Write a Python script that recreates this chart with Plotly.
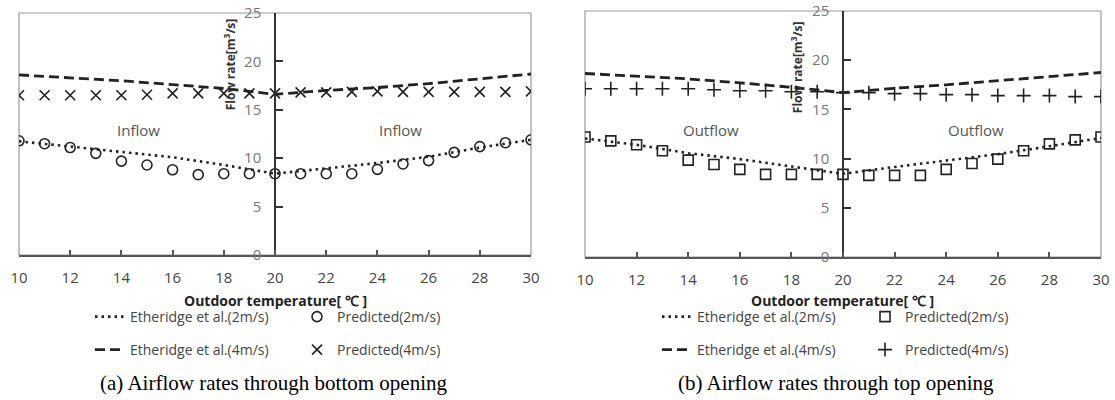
import plotly.graph_objects as go

# ---------------- data ----------------
temps = list(range(10, 31))
eth_x = [10, 12, 14, 16, 18, 20, 22, 24, 26, 28, 30]

# (a) bottom opening
eth2_a = [11.75, 11.2, 10.65, 10.1, 9.3, 8.4, 8.95, 9.5, 10.15, 11.1, 11.9]
eth4_a = [18.6, 18.3, 18.0, 17.6, 17.2, 16.6, 17.0, 17.3, 17.7, 18.2, 18.7]
pred2_a = [11.8, 11.5, 11.1, 10.5, 9.7, 9.3, 8.8, 8.3, 8.4, 8.4, 8.4,
           8.4, 8.4, 8.4, 8.85, 9.4, 9.75, 10.6, 11.2, 11.6, 11.9]
pred4_a = [16.5, 16.5, 16.5, 16.5, 16.5, 16.55, 16.7, 16.7, 16.7, 16.7, 16.7,
           16.8, 16.8, 16.85, 16.9, 16.85, 16.85, 16.85, 16.85, 16.85, 16.9]

# (b) top opening
eth2_b = [12.05, 11.4, 10.55, 9.95, 9.2, 8.45, 9.15, 9.8, 10.45, 11.25, 12.1]
eth4_b = [18.65, 18.4, 18.1, 17.7, 17.25, 16.7, 17.15, 17.5, 17.9, 18.3, 18.75]
pred2_b = [12.2, 11.8, 11.4, 10.8, 9.85, 9.4, 8.9, 8.4, 8.4, 8.4, 8.4,
           8.3, 8.3, 8.3, 8.9, 9.5, 9.95, 10.8, 11.5, 11.9, 12.2]
pred4_b = [17.1, 17.1, 17.1, 17.1, 17.1, 17.0, 16.9, 16.9, 16.8, 16.8, 16.7,
           16.7, 16.6, 16.6, 16.5, 16.5, 16.4, 16.4, 16.4, 16.3, 16.3]

x_ticks = list(range(10, 31, 2))
y_ticks = [0, 5, 10, 15, 20, 25]

names = ["Etheridge et al.(2m/s)", "Etheridge et al.(4m/s)",
         "Predicted(2m/s)", "Predicted(4m/s)"]
x_title = "Outdoor temperature[ ℃ ]"
y_title = "Flow rate[m<sup>3</sup>/s]"
captions = ["(a) Airflow rates through bottom opening",
            "(b) Airflow rates through top opening"]
zone_labels = [("Inflow", "Inflow"), ("Outflow", "Outflow")]

# ---------------- figure ----------------
W, H = 1115, 400
FONT = "Open Sans"
INK = "#222222"

fig = go.Figure()

panels = [
    dict(xa="x", ya="y", eth2=eth2_a, eth4=eth4_a, p2=pred2_a, p4=pred4_a,
         sym2="circle-open", sym4="x-thin-open", leg=["legend", "legend2", "legend3", "legend4"]),
    dict(xa="x2", ya="y2", eth2=eth2_b, eth4=eth4_b, p2=pred2_b, p4=pred4_b,
         sym2="square-open", sym4="cross-thin-open", leg=["legend5", "legend6", "legend7", "legend8"]),
]

for p in panels:
    fig.add_trace(go.Scatter(x=eth_x, y=p["eth2"], mode="lines", name=names[0],
                             line=dict(color=INK, width=2.6, dash="2.5px,4px"),
                             xaxis=p["xa"], yaxis=p["ya"], legend=p["leg"][0], showlegend=True))
    fig.add_trace(go.Scatter(x=eth_x, y=p["eth4"], mode="lines", name=names[1],
                             line=dict(color=INK, width=2.8, dash="10px,5px"),
                             xaxis=p["xa"], yaxis=p["ya"], legend=p["leg"][1], showlegend=True))
    fig.add_trace(go.Scatter(x=temps, y=p["p2"], mode="markers", name=names[2],
                             marker=dict(symbol=p["sym2"], size=10, color=INK,
                                         line=dict(width=1.6, color=INK)),
                             xaxis=p["xa"], yaxis=p["ya"], legend=p["leg"][2], showlegend=True))
    fig.add_trace(go.Scatter(x=temps, y=p["p4"], mode="markers", name=names[3],
                             marker=dict(symbol=p["sym4"], size=10, color=INK,
                                         line=dict(width=1.6, color=INK)),
                             xaxis=p["xa"], yaxis=p["ya"], legend=p["leg"][3], showlegend=True))

def px_x(v):
    return v / W

def px_y(v):
    return 1 - v / H

xcommon = dict(range=[10, 30], tickvals=x_ticks, ticks="inside", ticklen=5, tickwidth=1.5,
               tickcolor="#555", showline=True, linecolor="#555", linewidth=1.5,
               showgrid=False, zeroline=False, ticklabelstandoff=8, automargin=False,
               tickfont=dict(family=FONT, size=15, color="#444"))
ycommon = dict(range=[0, 25], tickvals=y_ticks, ticks="inside", ticklen=7, tickwidth=1.5,
               tickcolor="#333", showline=True, linecolor="#333", linewidth=1.5,
               showgrid=False, zeroline=False, anchor="free", side="left",
               ticklabelstandoff=10, automargin=False,
               tickfont=dict(family=FONT, size=15, color="#777"))
yover = dict(range=[0, 25], tickvals=y_ticks, ticks="outside", ticklen=3, tickwidth=1.5,
             tickcolor="#333", showline=False, showticklabels=False, showgrid=False,
             zeroline=False, anchor="free", side="left", automargin=False)

fig.update_layout(
    width=W, height=H, margin=dict(l=0, r=0, t=0, b=0, autoexpand=False),
    paper_bgcolor="white", plot_bgcolor="white", showlegend=True,
    xaxis=dict(domain=[px_x(19), px_x(531)], anchor="y", **xcommon),
    yaxis=dict(domain=[px_y(255), px_y(13)], position=px_x(275), **ycommon),
    xaxis2=dict(domain=[px_x(585), px_x(1101)], anchor="y2", **xcommon),
    yaxis2=dict(domain=[px_y(257), px_y(11)], position=px_x(843), **ycommon),
    yaxis3=dict(overlaying="y", position=px_x(275), **yover),
    yaxis4=dict(overlaying="y2", position=px_x(843), **yover),
)

# plot frames
for xr, yr in [("x domain", "y domain"), ("x2 domain", "y2 domain")]:
    fig.add_shape(type="rect", xref=xr, yref=yr, x0=0, x1=1, y0=0, y1=1,
                  line=dict(color="#999", width=1.2), layer="below")

# legends (one entry each, positioned as in the reference)
leg_pos = {
    "legend": (90, 317), "legend2": (90, 350), "legend3": (297, 317), "legend4": (297, 350),
    "legend5": (657, 317), "legend6": (657, 350), "legend7": (865, 317), "legend8": (865, 350),
}
for key, (lx, ly) in leg_pos.items():
    fig.update_layout({key: dict(x=px_x(lx), y=px_y(ly), xanchor="left", yanchor="middle",
                                 xref="paper", yref="paper", visible=True,
                                 bgcolor="rgba(0,0,0,0)", borderwidth=0, itemwidth=30,
                                 font=dict(family=FONT, size=14, color="#444"))})

# axis titles
for cx in (275, 842):
    fig.add_annotation(x=px_x(cx), y=px_y(300), xref="paper", yref="paper",
                       xanchor="center", yanchor="middle",
                       text="<b>" + x_title + "</b>", showarrow=False,
                       font=dict(family=FONT, size=14, color=INK))
fig.add_annotation(x=18.24, y=19.7, xref="x", yref="y", text="<b>" + y_title + "</b>",
                   xanchor="center", yanchor="middle",
                   textangle=-90, showarrow=False, font=dict(family=FONT, size=12, color="#333"))
fig.add_annotation(x=18.22, y=19.3, xref="x2", yref="y2", text="<b>" + y_title + "</b>",
                   xanchor="center", yanchor="middle",
                   textangle=-90, showarrow=False, font=dict(family=FONT, size=12, color="#333"))

# zone labels
zone_pos = [(14.65, "x", "y", zone_labels[0][0]), (24.9, "x", "y", zone_labels[0][1]),
            (14.9, "x2", "y2", zone_labels[1][0]), (25.15, "x2", "y2", zone_labels[1][1])]
for zx, xr, yr, txt in zone_pos:
    fig.add_annotation(x=zx, y=12.9, xref=xr, yref=yr, text=txt, showarrow=False,
                       xanchor="center", yanchor="middle",
                       font=dict(family=FONT, size=15, color="#555"))

# captions
for cx, cap in zip((274, 836), captions):
    fig.add_annotation(x=px_x(cx), y=px_y(383), xref="paper", yref="paper", text=cap,
                       xanchor="center", yanchor="middle",
                       showarrow=False, font=dict(family="Liberation Serif", size=21, color="black"))

fig.write_html("out.html", config={"displayModeBar": False},
               post_script="document.body.style.margin='0';document.body.style.overflow='hidden';")
